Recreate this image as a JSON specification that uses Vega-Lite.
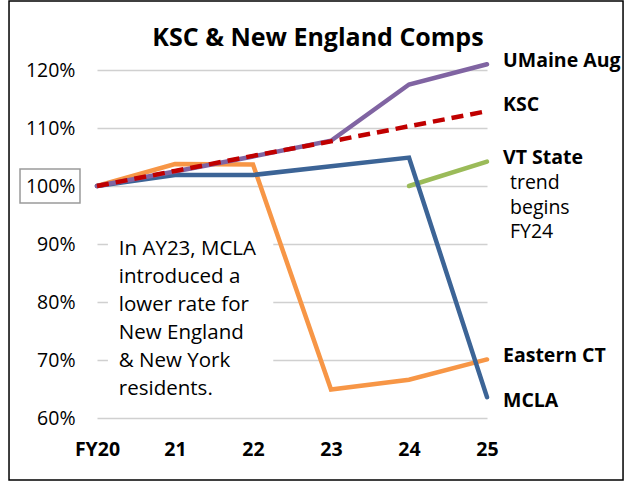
{
  "$schema": "https://vega.github.io/schema/vega-lite/v6.json",
  "autosize": {"type": "none"},
  "width": 390,
  "height": 348,
  "padding": {"left": 97, "top": 70, "right": 138, "bottom": 64},
  "background": "white",
  "config": {"view": {"stroke": null}, "font": "Open Sans"},
  "datasets": {
    "series": [
      {"year": 20, "series": "Eastern CT", "pct": 100},
      {"year": 21, "series": "Eastern CT", "pct": 103.8},
      {"year": 22, "series": "Eastern CT", "pct": 103.7},
      {"year": 23, "series": "Eastern CT", "pct": 64.9},
      {"year": 24, "series": "Eastern CT", "pct": 66.6},
      {"year": 25, "series": "Eastern CT", "pct": 70.1},
      {"year": 24, "series": "VT State", "pct": 100},
      {"year": 25, "series": "VT State", "pct": 104.2},
      {"year": 20, "series": "MCLA", "pct": 100},
      {"year": 21, "series": "MCLA", "pct": 101.9},
      {"year": 22, "series": "MCLA", "pct": 101.9},
      {"year": 23, "series": "MCLA", "pct": 103.4},
      {"year": 24, "series": "MCLA", "pct": 104.9},
      {"year": 25, "series": "MCLA", "pct": 63.6},
      {"year": 20, "series": "UMaine Aug", "pct": 100},
      {"year": 21, "series": "UMaine Aug", "pct": 102.5},
      {"year": 22, "series": "UMaine Aug", "pct": 105.1},
      {"year": 23, "series": "UMaine Aug", "pct": 107.8},
      {"year": 24, "series": "UMaine Aug", "pct": 117.5},
      {"year": 25, "series": "UMaine Aug", "pct": 121}
    ],
    "ksc": [
      {"year": 20, "series": "KSC", "pct": 100},
      {"year": 21, "series": "KSC", "pct": 102.6},
      {"year": 22, "series": "KSC", "pct": 105.2},
      {"year": 23, "series": "KSC", "pct": 107.7},
      {"year": 24, "series": "KSC", "pct": 110.3},
      {"year": 25, "series": "KSC", "pct": 112.9}
    ]
  },
  "encoding": {
    "x": {"type": "quantitative", "scale": {"domain": [20, 25], "nice": false, "zero": false}},
    "y": {"type": "quantitative", "scale": {"domain": [60, 120], "nice": false, "zero": false}}
  },
  "layer": [
    {
      "data": {"values": [{}]},
      "mark": {"type": "rect", "fill": "white", "stroke": null},
      "encoding": {
        "x": {"datum": 20.14, "type": "quantitative", "axis": {"values": [20, 21, 22, 23, 24, 25], "labelExpr": "datum.value == 20 ? 'FY20' : datum.value", "labelFlush": false, "labelOverlap": false, "domain": false, "ticks": false, "grid": false, "labelFontSize": 19.5, "labelFontWeight": "bold", "labelColor": "#000000", "labelPadding": 22, "title": null, "labelFont": "Open Sans"}},
        "x2": {"datum": 22.26},
        "y": {"datum": 92.8, "type": "quantitative", "axis": {"values": [60, 70, 80, 90, 100, 110, 120], "labelExpr": "datum.value + '%'", "labelFlush": false, "labelOverlap": false, "domain": false, "ticks": false, "grid": true, "gridColor": "#D0D0D0", "gridWidth": 1.5, "labelFontSize": 19.5, "labelColor": "#000000", "labelPadding": 22, "title": null, "labelFont": "Open Sans"}},
        "y2": {"datum": 62.2}
      }
    },
    {
      "data": {"values": [{}]},
      "mark": {"type": "rect", "fill": null, "stroke": "#000000", "strokeWidth": 1.5},
      "encoding": {
        "x": {"datum": 18.872, "type": "quantitative"},
        "x2": {"datum": 26.744},
        "y": {"datum": 131.9, "type": "quantitative"},
        "y2": {"datum": 49.3}
      }
    },
    {
      "data": {"values": [{}]},
      "mark": {"type": "rect", "fill": null, "stroke": "#9A9A9A", "strokeWidth": 1.5},
      "encoding": {
        "x": {"datum": 19.013, "type": "quantitative"},
        "x2": {"datum": 19.782},
        "y": {"datum": 102.93, "type": "quantitative"},
        "y2": {"datum": 97.07}
      }
    },
    {
      "data": {"values": [{"title": "KSC & New England Comps"}]},
      "mark": {"type": "text", "align": "center", "baseline": "middle", "fontSize": 25, "fontWeight": "bold", "font": "Open Sans", "color": "#000000"},
      "encoding": {
        "x": {"datum": 22.833, "type": "quantitative"},
        "y": {"datum": 125.5, "type": "quantitative"},
        "text": {"field": "title"}
      }
    },
    {
      "data": {"name": "series"},
      "mark": {"type": "line", "strokeWidth": 4.5, "strokeCap": "round"},
      "encoding": {
        "x": {"field": "year", "type": "quantitative"},
        "y": {"field": "pct", "type": "quantitative"},
        "color": {"field": "series", "type": "nominal", "legend": null,
          "scale": {"domain": ["Eastern CT", "VT State", "MCLA", "UMaine Aug"], "range": ["#F79646", "#9BBB59", "#3C6496", "#8064A2"]}}
      }
    },
    {
      "data": {"name": "ksc"},
      "mark": {"type": "line", "strokeWidth": 4.5, "color": "#C00000", "strokeDash": [12, 7]},
      "encoding": {
        "x": {"field": "year", "type": "quantitative"},
        "y": {"field": "pct", "type": "quantitative"}
      }
    },
    {
      "data": {"name": "series"},
      "transform": [{"filter": "datum.year == 25 && (datum.series == 'UMaine Aug' || datum.series == 'Eastern CT')"}],
      "mark": {"type": "text", "align": "left", "baseline": "middle", "dx": 16, "dy": -3, "fontSize": 19.5, "fontWeight": "bold", "font": "Open Sans", "color": "#000000"},
      "encoding": {
        "x": {"field": "year", "type": "quantitative"},
        "y": {"field": "pct", "type": "quantitative"},
        "text": {"field": "series"}
      }
    },
    {
      "data": {"name": "series"},
      "transform": [{"filter": "datum.year == 25 && datum.series == 'VT State'"}],
      "mark": {"type": "text", "align": "left", "baseline": "middle", "dx": 16, "dy": -4, "fontSize": 19.5, "fontWeight": "bold", "font": "Open Sans", "color": "#000000"},
      "encoding": {
        "x": {"field": "year", "type": "quantitative"},
        "y": {"field": "pct", "type": "quantitative"},
        "text": {"field": "series"}
      }
    },
    {
      "data": {"name": "series"},
      "transform": [{"filter": "datum.year == 25 && datum.series == 'MCLA'"}],
      "mark": {"type": "text", "align": "left", "baseline": "middle", "dx": 16, "dy": 4, "fontSize": 19.5, "fontWeight": "bold", "font": "Open Sans", "color": "#000000"},
      "encoding": {
        "x": {"field": "year", "type": "quantitative"},
        "y": {"field": "pct", "type": "quantitative"},
        "text": {"field": "series"}
      }
    },
    {
      "data": {"name": "ksc"},
      "transform": [{"filter": "datum.year == 25"}],
      "mark": {"type": "text", "align": "left", "baseline": "middle", "dx": 16, "dy": -6, "fontSize": 19.5, "fontWeight": "bold", "font": "Open Sans", "color": "#000000"},
      "encoding": {
        "x": {"field": "year", "type": "quantitative"},
        "y": {"field": "pct", "type": "quantitative"},
        "text": {"field": "series"}
      }
    },
    {
      "data": {"values": [{"note": "trend\nbegins\nFY24"}]},
      "mark": {"type": "text", "align": "left", "baseline": "middle", "dx": 23, "fontSize": 19.5, "lineBreak": "\n", "lineHeight": 24.5, "font": "Open Sans", "color": "#000000"},
      "encoding": {
        "x": {"datum": 25, "type": "quantitative"},
        "y": {"datum": 100.5, "type": "quantitative"},
        "text": {"field": "note"}
      }
    },
    {
      "data": {"values": [{"note": "In AY23, MCLA\nintroduced a\nlower rate for\nNew England\n& New York\nresidents."}]},
      "mark": {"type": "text", "align": "left", "baseline": "middle", "fontSize": 20.5, "lineBreak": "\n", "lineHeight": 28, "font": "Open Sans", "color": "#000000"},
      "encoding": {
        "x": {"datum": 20.28, "type": "quantitative"},
        "y": {"datum": 89.1, "type": "quantitative"},
        "text": {"field": "note"}
      }
    }
  ]
}
